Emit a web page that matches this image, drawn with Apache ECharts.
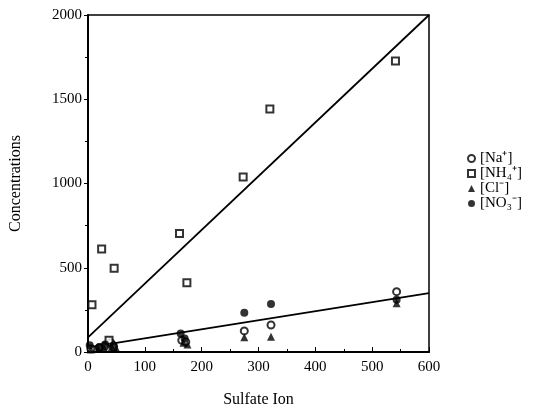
<!DOCTYPE html>
<html><head><meta charset="utf-8">
<script src="https://cdn.jsdelivr.net/npm/echarts@6/dist/echarts.min.js"></script>
<style>html,body{margin:0;padding:0;background:#fff}#c{width:550px;height:413px}</style>
</head><body><div id="c"></div>
<script>
const xTicks = [0, 100, 200, 300, 400, 500, 600];
const yTicks = [0, 500, 1000, 1500, 2000];
const naData = [[5,20],[20,25],[30,35],[40,55],[45,30],[165,70],[172,60],[275,125],[322,160],[543,358]];
const nh4Data = [[7,280],[24,611],[37,70],[46,497],[161,704],[174,411],[273,1038],[320,1442],[541,1727]];
const clData = [[5,15],[18,20],[28,25],[42,30],[50,20],[168,55],[175,45],[275,87],[322,91],[543,290]];
const no3Data = [[3,40],[20,30],[30,45],[45,40],[163,110],[170,80],[275,233],[322,285],[543,310]];
const nh4Fit = [[0,87],[600,2000]];
const lowFit = [[0,28],[600,349]];
const names = ['[Na\u207A]', '[NH\u2084\u207A]', '[Cl\u207B]', '[NO\u2083\u207B]'];

const font = 'Liberation Serif';
const chart = echarts.init(document.getElementById('c'));
chart.setOption({
  animation: false,
  backgroundColor: '#fff',
  grid: {left: 86, right: 121, top: 15, bottom: 61, show: true, borderColor: '#000', borderWidth: 1.5},
  xAxis: {
    type: 'value', min: 0, max: 600, interval: 100,
    name: 'Sulfate Ion', nameLocation: 'middle', nameGap: 40,
    nameTextStyle: {fontFamily: font, fontSize: 16, color: '#000'},
    axisLine: {lineStyle: {color: '#000', width: 2}},
    axisTick: {inside: true, length: 5, lineStyle: {color: '#000'}},
    minorTick: {show: true, splitNumber: 2, length: 3, lineStyle: {color: '#000'}},
    axisLabel: {fontFamily: font, fontSize: 15, color: '#000', margin: 8,
      formatter: v => xTicks.includes(v) ? String(v) : ''},
    splitLine: {show: false}
  },
  yAxis: {
    type: 'value', min: 0, max: 2000, interval: 500,
    name: 'Concentrations', nameLocation: 'middle', nameGap: 64,
    nameTextStyle: {fontFamily: font, fontSize: 16, color: '#000'},
    axisLine: {lineStyle: {color: '#000', width: 2}},
    axisTick: {inside: false, length: 4, lineStyle: {color: '#000'}},
    minorTick: {show: true, splitNumber: 2, length: 3, lineStyle: {color: '#000'}},
    axisLabel: {fontFamily: font, fontSize: 15, color: '#000', margin: 6,
      formatter: v => yTicks.includes(v) ? String(v) : ''},
    splitLine: {show: false}
  },
  legend: {
    orient: 'vertical', left: 462, top: 146, itemGap: 0,
    itemWidth: 7, itemHeight: 7,
    textStyle: {fontFamily: font, fontSize: 15, lineHeight: 15, color: '#000'},
    data: [
      {name: names[0], icon: 'circle'},
      {name: names[1], icon: 'rect'},
      {name: names[2], icon: 'triangle'},
      {name: names[3], icon: 'circle'}
    ]
  },
  series: [
    {type: 'line', data: nh4Fit, showSymbol: false, silent: true, lineStyle: {color: '#000', width: 1.8}, z: 1},
    {type: 'line', data: lowFit, showSymbol: false, silent: true, lineStyle: {color: '#000', width: 1.8}, z: 1},
    {name: names[0], type: 'scatter', data: naData, symbol: 'circle', symbolSize: 7,
      itemStyle: {color: '#fff', borderColor: '#000', borderWidth: 2}, z: 3},
    {name: names[1], type: 'scatter', data: nh4Data, symbol: 'rect', symbolSize: 7,
      itemStyle: {color: '#fff', borderColor: '#000', borderWidth: 2}, z: 3},
    {name: names[2], type: 'scatter', data: clData, symbol: 'triangle', symbolSize: 8,
      itemStyle: {color: '#000'}, z: 3},
    {name: names[3], type: 'scatter', data: no3Data, symbol: 'circle', symbolSize: 8,
      itemStyle: {color: '#000'}, z: 3}
  ]
});
</script></body></html>
